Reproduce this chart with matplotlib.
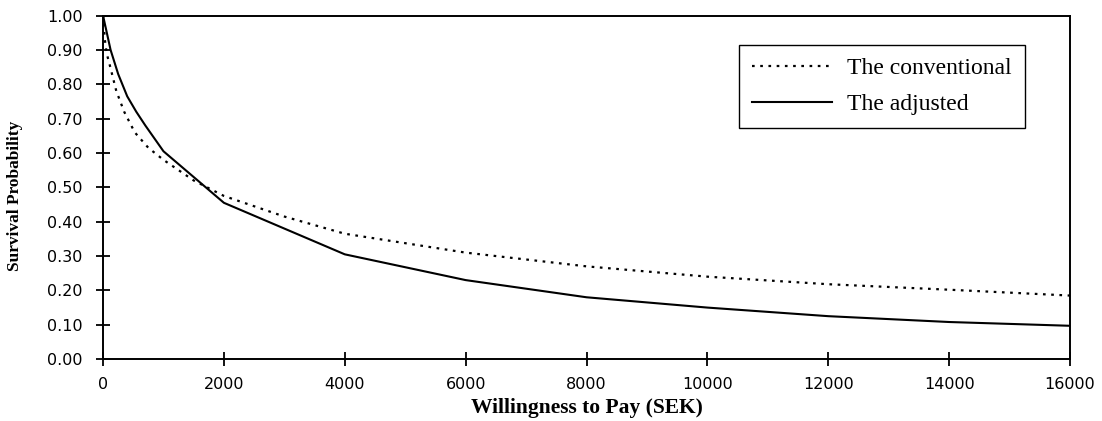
import matplotlib
matplotlib.use("Agg")
from matplotlib import pyplot as plt
import numpy as np

# willingness to pay (SEK) and survival probability
adj_x = [0, 50, 125, 250, 400, 550, 700, 1000, 2000, 4000, 6000, 8000, 10000, 12000, 14000, 16000]
adj_y = [1.0, 0.96, 0.90, 0.83, 0.765, 0.72, 0.68, 0.605, 0.455, 0.305, 0.23, 0.18, 0.15, 0.125, 0.108, 0.097]

conv_x = [0, 30, 60, 120, 220, 350, 525, 750, 1000, 1500, 2000, 3000, 4000, 6000, 8000,
          10000, 12000, 14000, 16000]
conv_y = [1.0, 0.93, 0.89, 0.85, 0.78, 0.72, 0.66, 0.615, 0.58, 0.52, 0.475, 0.415, 0.365,
          0.31, 0.27, 0.24, 0.218, 0.202, 0.185]

xticks = np.arange(0, 16001, 2000)
yticks = np.arange(0, 1.001, 0.1)

fig = plt.figure(figsize=(11.02, 4.21), dpi=100)
ax = fig.add_axes([0.0935, 0.147, 0.8775, 0.816])

ax.plot(conv_x, conv_y, color="black", linestyle=(0, (1.2, 2.5)), linewidth=1.6,
        label="The conventional")
ax.plot(adj_x, adj_y, color="black", linestyle="-", linewidth=1.5, label="The adjusted")

ax.set_xlim(0, 16000)
ax.set_ylim(0, 1.0)
ax.set_xticks(xticks)
ax.set_xticklabels([str(v) for v in xticks])
ax.set_yticks(yticks)
ax.set_yticklabels(["%.2f" % v for v in yticks])
ax.tick_params(direction="inout", length=9.4, width=1.3, labelsize=11.5, colors="black")
ax.tick_params(axis="y", pad=10)
ax.tick_params(axis="x", pad=8)
for lab in ax.get_xticklabels() + ax.get_yticklabels():
    lab.set_family("DejaVu Sans")
for s in ax.spines.values():
    s.set_linewidth(1.4)
    s.set_color("black")

ax.set_xlabel("Willingness to Pay (SEK)", family="Liberation Serif", fontweight="bold",
              fontsize=15.5)
ax.xaxis.set_label_coords(0.5, -0.114)
ax.set_ylabel("Survival Probability", family="Liberation Serif", fontweight="bold",
              fontsize=12.5)
ax.yaxis.set_label_coords(-0.0827, 0.474)

leg = ax.legend(loc="upper right", bbox_to_anchor=(0.9535, 0.9146), borderaxespad=0,
                fancybox=False, edgecolor="black", framealpha=1, handlelength=3.4,
                handletextpad=0.64, borderpad=0.55, labelspacing=0.6,
                prop={"family": "Liberation Serif", "size": 17})
leg.get_frame().set_linewidth(1.0)

fig.savefig("out.png", dpi=100)
